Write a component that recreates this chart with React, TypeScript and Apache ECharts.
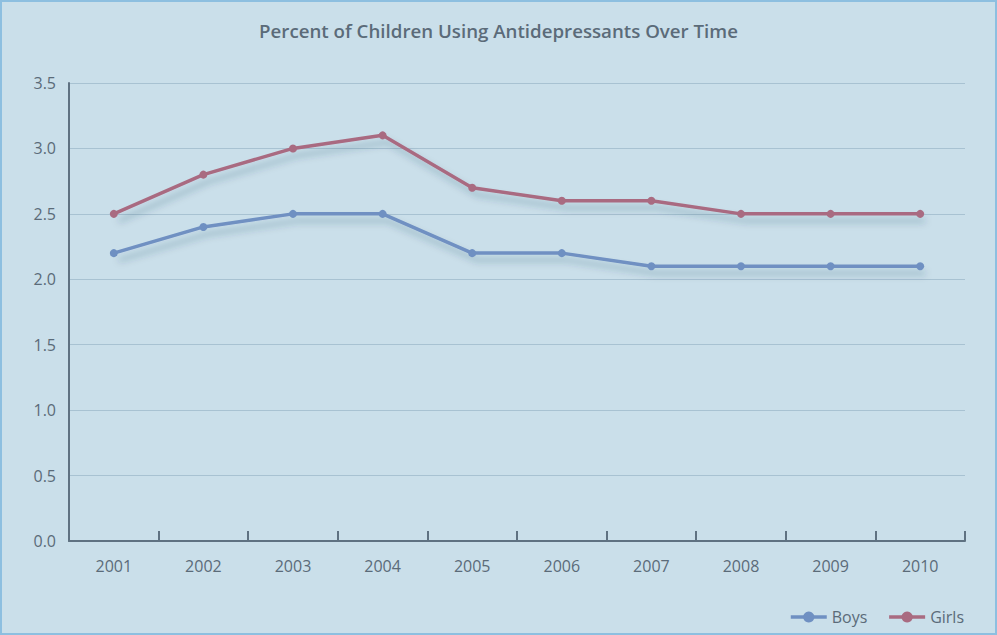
import React, { useEffect, useRef } from "react";
import * as echarts from "echarts";

const years = ["2001", "2002", "2003", "2004", "2005", "2006", "2007", "2008", "2009", "2010"];
const boys = [2.2, 2.4, 2.5, 2.5, 2.2, 2.2, 2.1, 2.1, 2.1, 2.1];
const girls = [2.5, 2.8, 3.0, 3.1, 2.7, 2.6, 2.6, 2.5, 2.5, 2.5];
const seriesNames = ["Boys", "Girls"];
const titleText = "Percent of Children Using Antidepressants Over Time";

const FONT = "'Open Sans', sans-serif";
const TEXT = "#5b6b79";

export default function App() {
  const ref = useRef<HTMLDivElement>(null);
  useEffect(() => {
    document.body.style.margin = "0";
    const chart = echarts.init(ref.current!, undefined, { renderer: "svg" });
    const shadow = {
      shadowColor: "rgba(40,60,80,0.28)",
      shadowBlur: 7,
      shadowOffsetX: 5,
      shadowOffsetY: 7,
    };
    chart.setOption({
      animation: false,
      backgroundColor: "#cadfea",
      title: {
        text: titleText,
        left: "center",
        top: 14,
        textStyle: { fontFamily: FONT, fontWeight: 600, fontSize: 18.7, color: TEXT },
      },
      legend: {
        right: 26,
        bottom: 3,
        itemWidth: 36,
        itemHeight: 14,
        itemGap: 20,
        lineStyle: { width: 3.5, shadowBlur: 0, shadowOffsetX: 0, shadowOffsetY: 0, shadowColor: "transparent" },
        textStyle: { fontFamily: FONT, fontSize: 16, color: TEXT },
        data: seriesNames,
      },
      grid: { left: 67, right: 30, top: 81, bottom: 92, containLabel: false },
      xAxis: {
        type: "category",
        data: years,
        boundaryGap: true,
        axisLine: { lineStyle: { color: "#5f7282", width: 2 } },
        axisTick: { show: true, inside: true, length: 10, lineStyle: { color: "#5f7282", width: 2 } },
        axisLabel: { fontFamily: FONT, fontSize: 16, color: TEXT, margin: 17 },
      },
      yAxis: {
        type: "value",
        min: 0,
        max: 3.5,
        interval: 0.5,
        axisLine: { show: true, lineStyle: { color: "#5f7282", width: 2 } },
        axisTick: { show: false },
        splitLine: { lineStyle: { color: "#a8c2d2", width: 1 } },
        axisLabel: {
          fontFamily: FONT,
          fontSize: 16,
          color: TEXT,
          margin: 13,
          formatter: (v: number) => v.toFixed(1),
        },
      },
      series: [
        {
          name: seriesNames[0],
          type: "line",
          data: boys,
          symbol: "circle",
          symbolSize: 8,
          color: "#6f90c2",
          lineStyle: { width: 3.5, color: "#6f90c2", ...shadow },
          itemStyle: { color: "#6f90c2" },
        },
        {
          name: seriesNames[1],
          type: "line",
          data: girls,
          symbol: "circle",
          symbolSize: 8,
          color: "#a96b81",
          lineStyle: { width: 3.5, color: "#a96b81", ...shadow },
          itemStyle: { color: "#a96b81" },
        },
      ],
    });
    return () => chart.dispose();
  }, []);
  return (
    <div
      style={{
        position: "fixed",
        left: 0,
        top: 0,
        width: 997,
        height: 635,
        boxSizing: "border-box",
        border: "2px solid #8dbfe0",
        background: "#cadfea",
      }}
    >
      <div ref={ref} style={{ width: 993, height: 631 }} />
    </div>
  );
}
